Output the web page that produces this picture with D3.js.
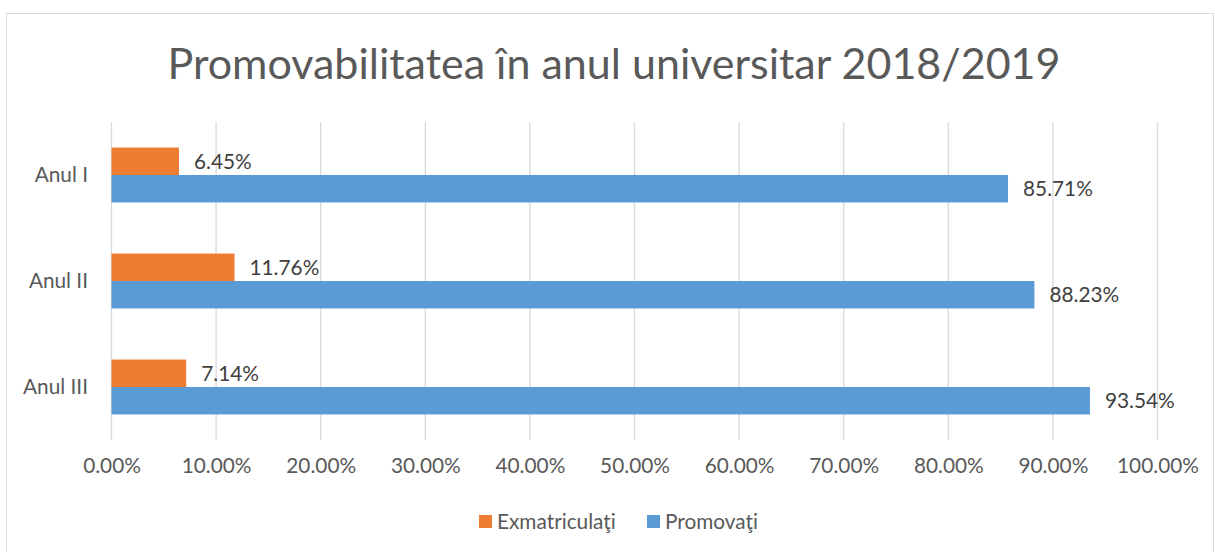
<!DOCTYPE html>
<html><head><meta charset="utf-8">
<script src="https://cdn.jsdelivr.net/npm/d3@7"></script>
<style>body{margin:0;background:#fff}svg{display:block}</style>
</head><body>
<script>
const categories = ["Anul I", "Anul II", "Anul III"];
const seriesNames = ["Exmatriculaţi", "Promovaţi"];
const exmatriculati = [6.45, 11.76, 7.14];
const promovati = [85.71, 88.23, 93.54];
const tickValues = [0,10,20,30,40,50,60,70,80,90,100];
const colors = ["#ED7D31", "#5B9BD5"];
const title = "Promovabilitatea în anul universitar 2018/2019";

const W = 1215, H = 552;
const font = "Lato, 'Open Sans', sans-serif";
const fs = 20.8;
const svg = d3.select("body").append("svg").attr("width", W).attr("height", H);
svg.append("rect").attr("x", 6.5).attr("y", 13.5).attr("width", W - 8).attr("height", H - 13)
  .attr("fill", "#fff").attr("stroke", "#D9D9D9");

svg.append("text").attr("x", 614).attr("y", 79).attr("text-anchor", "middle")
  .attr("font-family", font).attr("font-size", 43).attr("fill", "#595959").text(title);

const x = d3.scaleLinear().domain([0, 100]).range([111.5, 1157.5]);
const y = d3.scaleBand().domain(categories).range([122, 440]).paddingInner(0).paddingOuter(0);
const sub = d3.scaleBand().domain(seriesNames).range([0, y.bandwidth()]).paddingOuter(0.93).paddingInner(0);

// gridlines
svg.append("g").selectAll("line").data(tickValues).join("line")
  .attr("x1", d => x(d)).attr("x2", d => x(d)).attr("y1", 122).attr("y2", 440)
  .attr("stroke", "#D9D9D9").attr("stroke-width", 1.3);

// x axis labels
const xAxis = d3.axisBottom(x).tickValues(tickValues).tickSize(0).tickFormat(d => d3.format(".2f")(d) + "%");
const gx = svg.append("g").attr("transform", "translate(0,455)").call(xAxis);
gx.select(".domain").remove();
gx.selectAll("text").attr("font-family", font).attr("font-size", fs).attr("fill", "#595959").attr("dy", "0.71em");

// y axis labels
const yAxis = d3.axisLeft(y).tickSize(0).tickPadding(0);
const gy = svg.append("g").attr("transform", "translate(88,0)").call(yAxis);
gy.select(".domain").remove();
gy.selectAll("text").attr("font-family", font).attr("font-size", fs).attr("fill", "#595959");

const data = categories.map((c, i) => ({ c, vals: [exmatriculati[i], promovati[i]] }));
const groups = svg.append("g").selectAll("g").data(data).join("g")
  .attr("transform", d => `translate(0,${y(d.c)})`);
groups.selectAll("rect").data(d => d.vals.map((v, j) => ({ v, s: seriesNames[j], j }))).join("rect")
  .attr("x", x(0)).attr("y", d => sub(d.s)).attr("width", d => x(d.v) - x(0)).attr("height", sub.bandwidth())
  .attr("fill", d => colors[d.j]);
groups.selectAll("text").data(d => d.vals.map((v, j) => ({ v, s: seriesNames[j], j }))).join("text")
  .attr("x", d => x(d.v) + 15).attr("y", d => sub(d.s) + sub.bandwidth() / 2).attr("dy", "0.35em")
  .attr("font-family", font).attr("font-size", fs).attr("fill", "#404040")
  .text(d => d3.format(".2f")(d.v) + "%");

// legend
const legendX = [479, 647];
const lg = svg.append("g").selectAll("g").data(seriesNames).join("g")
  .attr("transform", (d, i) => `translate(${legendX[i]},515)`);
lg.append("rect").attr("width", 13).attr("height", 13).attr("fill", (d, i) => colors[i]);
lg.append("text").attr("x", 18).attr("y", 6.5).attr("dy", "0.35em")
  .attr("font-family", font).attr("font-size", fs).attr("fill", "#595959").text(d => d);
</script>
</body></html>
